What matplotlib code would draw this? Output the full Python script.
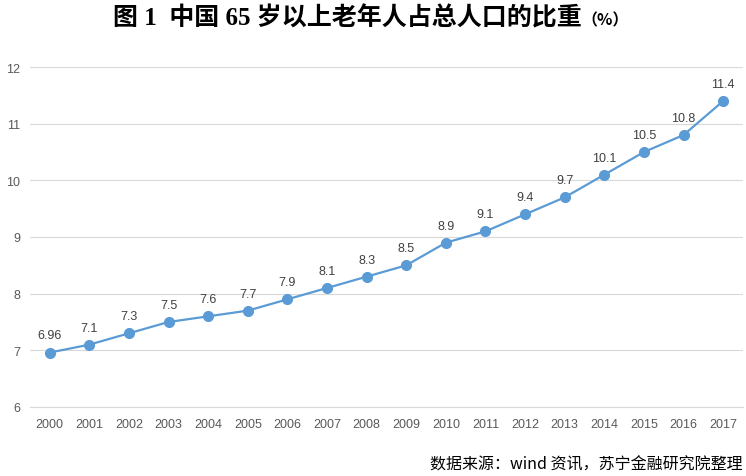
import matplotlib
matplotlib.use("Agg")
import matplotlib.pyplot as plt

years = [str(y) for y in range(2000, 2018)]
ratio = [6.96, 7.1, 7.3, 7.5, 7.6, 7.7, 7.9, 8.1, 8.3, 8.5, 8.9, 9.1, 9.4, 9.7, 10.1, 10.5, 10.8, 11.4]
labels = ["6.96", "7.1", "7.3", "7.5", "7.6", "7.7", "7.9", "8.1", "8.3", "8.5",
          "8.9", "9.1", "9.4", "9.7", "10.1", "10.5", "10.8", "11.4"]
yticks = [6, 7, 8, 9, 10, 11, 12]

title_main = "图 1  中国 65 岁以上老年人占总人口的比重"
title_unit = "（%）"
source = "数据来源：wind 资讯，苏宁金融研究院整理"

line_color = "#5B9BD5"

fig = plt.figure(figsize=(7.46, 4.77), dpi=100)
ax = fig.add_axes([0.040, 0.1447, 0.956, 0.7127])

x = list(range(len(years)))
ax.plot(x, ratio, color=line_color, lw=1.6, marker="o", ms=7, zorder=3)
for xi, yi, lab in zip(x, ratio, labels):
    ax.annotate(lab, (xi, yi), xytext=(0, 8), textcoords="offset points",
                ha="center", va="bottom", fontsize=9, color="#404040",
                family="Liberation Sans")

ax.set_xlim(-0.5, len(years) - 0.5)
ax.set_ylim(6, 12)
ax.set_yticks(yticks)
ax.set_xticks(x)
ax.set_xticklabels(years)
ax.grid(axis="y", color="#D9D9D9", lw=0.8)
ax.set_axisbelow(True)
for s in ["top", "right", "left"]:
    ax.spines[s].set_visible(False)
ax.spines["bottom"].set_color("#D9D9D9")
ax.tick_params(length=0, labelsize=9, labelcolor="#595959", pad=8)
for t in ax.get_xticklabels() + ax.get_yticklabels():
    t.set_family("Liberation Sans")
ax.tick_params(axis="y", pad=7)

# title: main part, then a smaller unit right after it
t_main = fig.text(0.5 - 0.035, 0.962, title_main, ha="center", va="center", fontsize=18,
                  fontweight="bold", family=["Liberation Serif", "Noto Sans CJK SC"])
fig.canvas.draw()
bb = t_main.get_window_extent().transformed(fig.transFigure.inverted())
fig.text(bb.x1, 0.958, title_unit, ha="left", va="center", fontsize=11.5,
         fontweight="bold", family=["Noto Sans CJK SC", "Liberation Serif"])

fig.text(0.995, 0.025, source, ha="right", va="center", fontsize=11.5,
         style="italic", family=["Noto Sans CJK SC", "DejaVu Sans"], color="#000000")

fig.savefig("out.png", dpi=100)
